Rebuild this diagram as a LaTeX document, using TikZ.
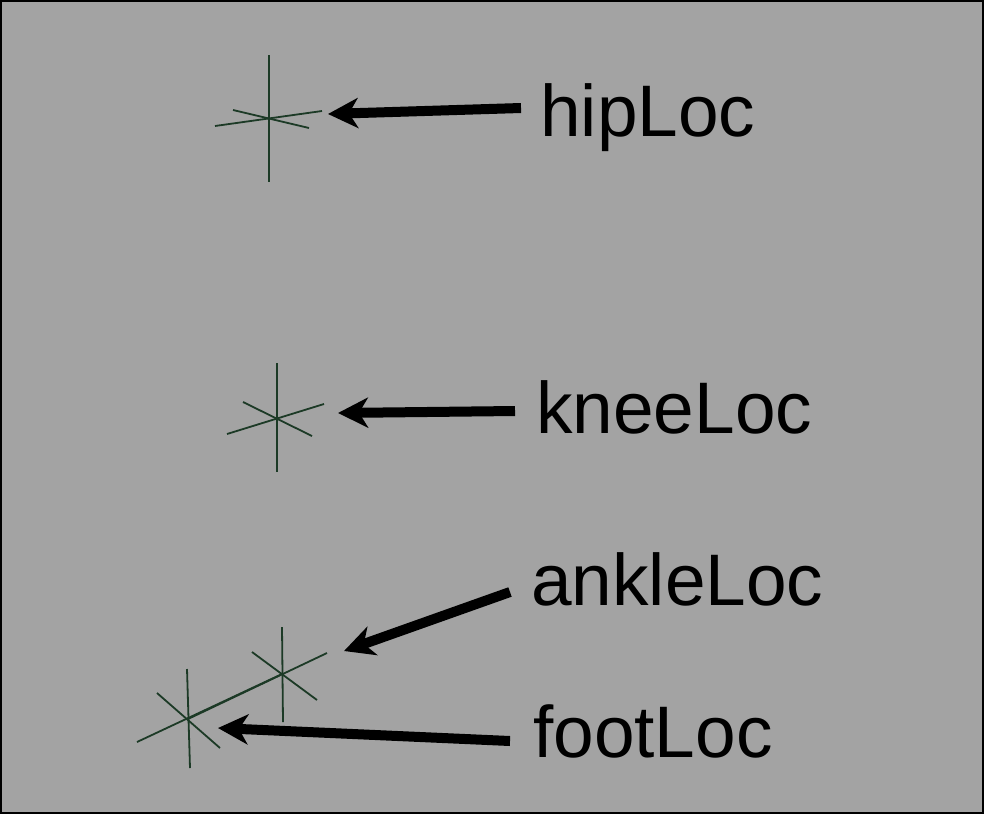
\documentclass[tikz,border=0pt]{standalone}
\usepackage{fontspec}
\setmainfont{Liberation Sans}
\usetikzlibrary{arrows.meta}
\definecolor{bggray}{RGB}{163,163,163}
\definecolor{locgreen}{RGB}{28,58,38}
\begin{document}
\begin{tikzpicture}[x=1pt,y=-1pt,
  loc/.style={draw=locgreen,line width=1.8pt},
  bigarrow/.style={draw=black,line width=10pt,-{Stealth[length=30pt,width=30pt,inset=9pt]}},
  lbl/.style={anchor=base west,inner sep=0pt,font=\fontsize{73}{82}\selectfont}]
\useasboundingbox (0,0) rectangle (984,814);
\fill[bggray] (0,0) rectangle (984,814);
\draw[black,line width=2pt] (1,1) rectangle (983,813);
% locators
% hip
\coordinate (hipC) at (269,119);
\draw[loc] (269,55) -- (269,182);
\draw[loc] (215,126) -- (322,111);
\draw[loc] (233,110) -- (309,128);
% knee
\coordinate (kneeC) at (277,418);
\draw[loc] (277,363) -- (277,472);
\draw[loc] (227,434) -- (324,404);
\draw[loc] (243,402) -- (312,436);
% ankle
\coordinate (ankleC) at (282,674);
\draw[loc] (282,627) -- (283,722);
\draw[loc] (188,719) -- (327,653);
\draw[loc] (252,652) -- (317,700);
% foot
\coordinate (footC) at (188,719);
\draw[loc] (187,669) -- (190,768);
\draw[loc] (137,742) -- (282,674);
\draw[loc] (157,693) -- (220,748);
% labels
\node[lbl] (hipL) at (540,136) {hipLoc};
\node[lbl] (kneeL) at (536,433) {kneeLoc};
\node[lbl] (ankleL) at (531,605) {ankleLoc};
\node[lbl] (footL) at (533,757) {footLoc};
% arrow ends
\coordinate (hipT) at (521,108);
\coordinate (hipH) at (328,114);
\coordinate (kneeT) at (515,411);
\coordinate (kneeH) at (338,413);
\coordinate (ankleT) at (510,592);
\coordinate (ankleH) at (344,651);
\coordinate (footT) at (510,741);
\coordinate (footH) at (218,728);
\draw[bigarrow] (hipT) -- (hipH);
\draw[bigarrow] (kneeT) -- (kneeH);
\draw[bigarrow] (ankleT) -- (ankleH);
\draw[bigarrow] (footT) -- (footH);
\end{tikzpicture}
\end{document}
